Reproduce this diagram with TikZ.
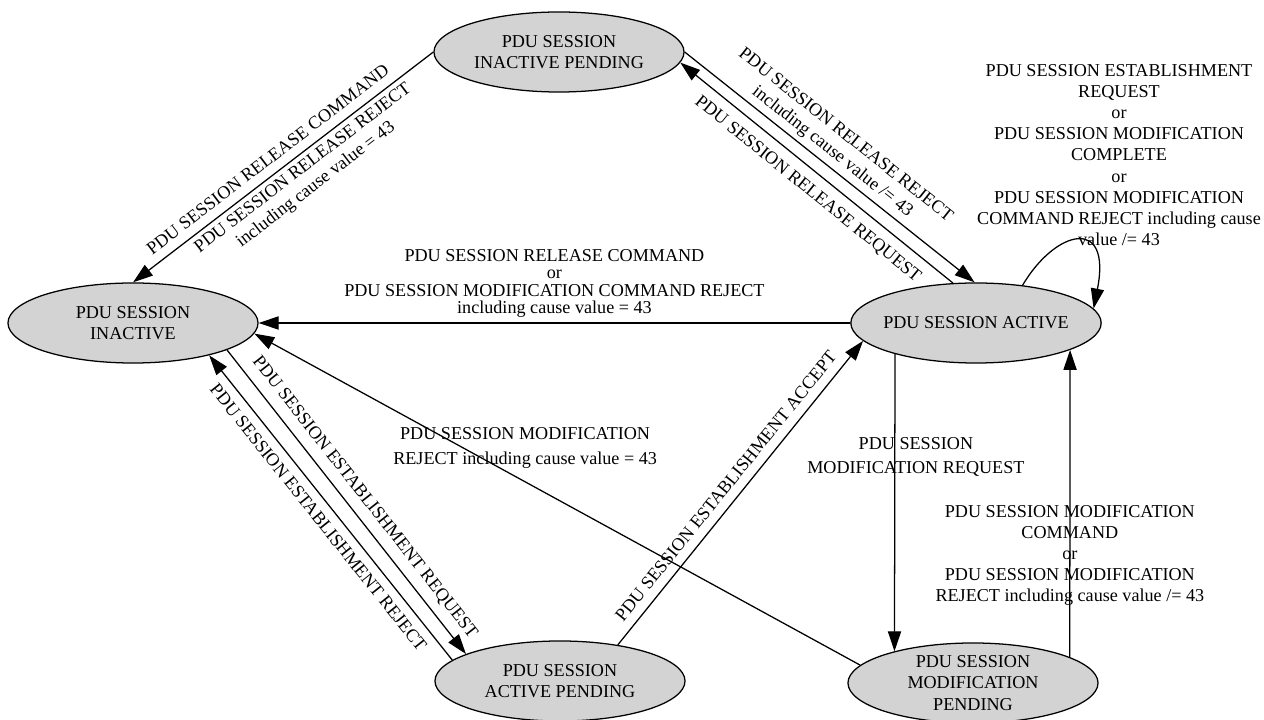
\documentclass[tikz,border=0pt]{standalone}
\usepackage{fontspec}
\setmainfont{Liberation Serif}
\usetikzlibrary{arrows.meta,shapes.geometric,positioning}
\definecolor{stategray}{RGB}{211,211,211}
\newcommand{\pdufont}{\fontsize{12.9}{15}\selectfont}
\tikzset{
  every picture/.style = {
    line width = 0.9pt,
    >={Triangle[length=5mm, width=3.3mm]},
  }
  ,
  state/.style = {
    ellipse,
    draw,
    fill = stategray,
    font = \pdufont,
    align = center,
    inner sep = -3pt,
    minimum width = 6.25cm,
    minimum height = 2cm
  }
  , % labels of edges
  label-edge/.style = {
    font = \pdufont,
    align = center
  }
}

\begin{document}
\begin{tikzpicture}[->, x=0.025cm, y=-0.025cm]
\useasboundingbox (0,0) rectangle (1264,720);
\node[state] at (133,323) (inact) {PDU SESSION\\INACTIVE};
\node[state] at (559,52) (inpend) {PDU SESSION\\INACTIVE PENDING};
\node[state] at (976,323) (act) {PDU SESSION ACTIVE};
\node[state] at (560,681) (actpend) {PDU SESSION\\ACTIVE PENDING};
\node[state] at (973,683) (modpend) {PDU SESSION\\MODIFICATION\\PENDING};

\path (inpend.180) edge node[label-edge, sloped, above=3pt, pos=0.52] {PDU SESSION RELEASE COMMAND}
  node[label-edge, sloped, below, pos=0.46] {PDU SESSION RELEASE REJECT\\including cause value = 43} (inact.90);
\path (act.120) edge node[label-edge, sloped, below=4pt, pos=0.49] {PDU SESSION RELEASE REQUEST} (inpend.-5);
\path (inpend.0) edge node[label-edge, sloped, above, pos=0.48] {PDU SESSION RELEASE REJECT\\including cause value /= 43} (act.92);
\path (act.180) edge node[label-edge, above, font={\fontsize{12.9}{12.5}\selectfont}] {PDU SESSION RELEASE COMMAND\\or\\PDU SESSION MODIFICATION COMMAND REJECT\\including cause value = 43} (inact.0);
% self loop on the active state
\draw (act.39) .. controls (1055,230) and (1112,215) .. (act.7);
\node[label-edge] at (1119,155) (looptext) {PDU SESSION ESTABLISHMENT\\REQUEST\\or\\PDU SESSION MODIFICATION\\COMPLETE\\or\\PDU SESSION MODIFICATION\\COMMAND REJECT including cause\\value /= 43};

\path (inact.-16) edge node[label-edge, sloped, above=3pt, pos=0.52] {PDU SESSION ESTABLISHMENT REQUEST} (actpend.164);
\path (actpend.169) edge node[label-edge, sloped, below=3pt, pos=0.5] {PDU SESSION ESTABLISHMENT REJECT} (inact.-23);
\path (actpend.32) edge node[label-edge, sloped, above=3pt, pos=0.49] {PDU SESSION ESTABLISHMENT ACCEPT} (act.189);
\path (modpend.171) edge node[label-edge, pos=0.553, yshift=24pt, font={\fontsize{12.9}{18}\selectfont}] {PDU SESSION MODIFICATION\\REJECT including cause value = 43} (inact.-5);
\path (act.201) edge node[label-edge, pos=0.345, xshift=15pt, font={\fontsize{12.9}{17}\selectfont}] {PDU SESSION\\MODIFICATION REQUEST} (modpend.158);
\path (modpend.15) edge node[label-edge, pos=0.33] {PDU SESSION MODIFICATION\\COMMAND\\or\\PDU SESSION MODIFICATION\\REJECT including cause value /= 43} (act.-16);
\end{tikzpicture}
\end{document}
